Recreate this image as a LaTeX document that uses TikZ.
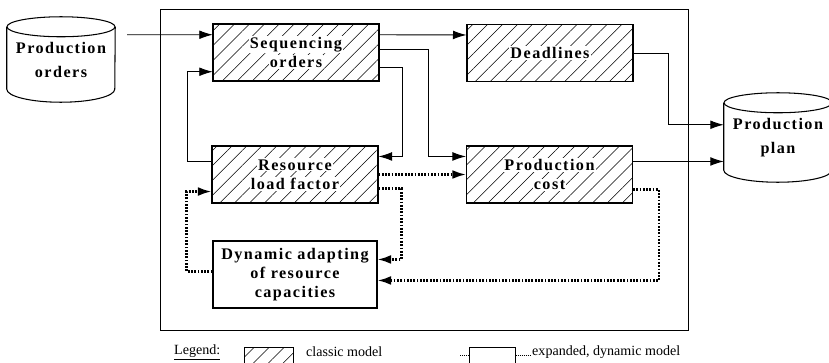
\documentclass[tikz,border=0pt]{standalone}
\usepackage{fontspec}
\setmainfont{Liberation Serif}
\newfontfamily\boxfont[LetterSpace=9]{Liberation Serif}
\usetikzlibrary{arrows.meta, positioning, patterns.meta}

\newcommand{\wl}[1]{{\setlength{\fboxsep}{1pt}\colorbox{white}{#1}}}

\tikzset{
  boxtext/.style={font=\boxfont\bfseries\fontsize{13.8}{16.5}\selectfont, align=center},
  classic/.style={draw, line width=0.9pt, preaction={fill=white},
    pattern={Lines[angle=45, distance=9pt, line width=0.45pt]},
    minimum width=4.98cm, minimum height=1.71cm, inner sep=0pt, boxtext},
  dynbox/.style={draw, line width=0.9pt, fill=white, minimum width=4.92cm,
    minimum height=2.01cm, inner sep=0pt, boxtext},
  dbnode/.style={rectangle, inner sep=0pt, boxtext},
  dbline/.style={line width=0.9pt},
  arr/.style={-{Latex[length=11.5pt, width=7.5pt]}, line width=0.8pt},
  dotarr/.style={arr, line width=1.8pt, dash pattern=on 1.5pt off 1.3pt},
  legtext/.style={font=\fontsize{12}{14}\selectfont, inner sep=0pt},
  legdots/.style={line width=0.7pt, dash pattern=on 0.7pt off 1pt}
}

\begin{document}
\begin{tikzpicture}[x=0.03cm, y=-0.03cm]
  \useasboundingbox (0,0) rectangle (829,363);
  \clip (0,0) rectangle (829,363);

  \draw[line width=0.8pt] (160,9) rectangle (688,330);

  \node[dbnode, minimum width=3.24cm, minimum height=2.55cm] (orders) at (61,59.5) {Production\\[4pt]orders};
  \draw[dbline] ([shift={(0,10)}]orders.north west) -- ([shift={(0,-13)}]orders.south west)
    arc[start angle=180, end angle=360, x radius=1.62cm, y radius=0.39cm]
    -- ([shift={(0,10)}]orders.north east);
  \draw[dbline] ([shift={(0,10)}]orders.north) ellipse[x radius=1.62cm, y radius=0.3cm];

  \node[dbnode, minimum width=3.24cm, minimum height=2.67cm] (plan) at (778,137.5) {Production\\[4pt]plan};
  \draw[dbline] ([shift={(0,10)}]plan.north west) -- ([shift={(0,-12)}]plan.south west)
    arc[start angle=180, end angle=360, x radius=1.62cm, y radius=0.36cm]
    -- ([shift={(0,10)}]plan.north east);
  \draw[dbline] ([shift={(0,10)}]plan.north) ellipse[x radius=1.62cm, y radius=0.3cm];

  \node[classic] (seq) at (296,52.5) {\wl{Sequencing}\\\wl{orders}};
  \node[classic] (dead) at (550,53) {\wl{Deadlines}};
  \node[classic] (res) at (295,174.5) {\wl{Resource}\\\wl{load factor}};
  \node[classic] (cost) at (549.5,174.5) {\wl{Production}\\\wl{cost}};
  \node[dynbox] (dyn) at (295,274.5) {Dynamic adapting\\of resource\\capacities};

  \draw[arr] ([shift={(12,18)}]orders.north east) -- ([shift={(0,11)}]seq.north west);
  \draw[arr] ([shift={(0,11)}]seq.north east) -- ([shift={(0,11)}]dead.north west);
  \draw[arr] ([shift={(0,26)}]seq.north east) -- ++(49,0) |- ([shift={(0,11)}]cost.north west);
  \draw[arr] ([shift={(0,44)}]seq.north east) -- ++(23,0) |- ([shift={(0,11)}]res.north east);
  \draw[arr] ([shift={(0,16)}]res.north west) -- ++(-24,0) |- ([shift={(0,48)}]seq.north west);
  \draw[arr] (dead.east) -- ++(35,0) |- ([shift={(0,32)}]plan.north west);
  \coordinate (c1) at ([shift={(0,16)}]cost.north east);
  \draw[arr] (c1) -- (c1 -| plan.west);

  \draw[dotarr] (res.east) -- (cost.west);
  \draw[dotarr] ([shift={(0,-15)}]res.south east) -- ++(23,0) |- ([shift={(0,19)}]dyn.north east);
  \draw[dotarr] ([shift={(0,-14)}]cost.south east) -- ++(26,0) |- ([shift={(0,40)}]dyn.north east);
  \draw[dotarr] ([shift={(0,31)}]dyn.north west) -- ++(-26,0) |- ([shift={(0,-12)}]res.south west);

  \node[legtext, anchor=west] (leg) at (174,352) {\underline{Legend:}};
  \node[classic, minimum width=1.47cm, minimum height=0.9cm, anchor=north west] (legc) at (244,347) {};
  \node[legtext, anchor=west] (legct) at (306,352) {classic model};
  \node[draw, line width=0.6pt, minimum width=1.38cm, minimum height=0.9cm, anchor=north west] (legd) at (469,347) {};
  \draw[legdots] ([shift={(0,8)}]legd.north west) -- ++(-9,0);
  \draw[legdots] ([shift={(0,8)}]legd.north east) -- ++(14,0);
  \node[legtext, anchor=west] (legdt) at (532,352) {expanded, dynamic model};
\end{tikzpicture}
\end{document}
